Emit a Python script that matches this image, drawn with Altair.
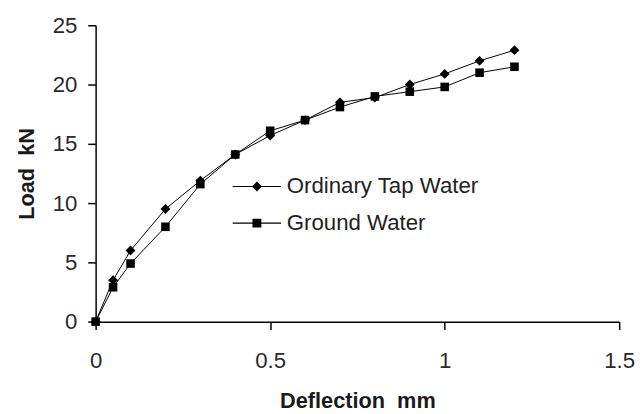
import altair as alt
import pandas as pd

# ---- data ----
deflection = [0, 0.05, 0.1, 0.2, 0.3, 0.4, 0.5, 0.6, 0.7, 0.8, 0.9, 1.0, 1.1, 1.2]
tap_load = [0, 3.5, 6.0, 9.5, 11.9, 14.1, 15.7, 17.0, 18.5, 18.9, 20.0, 20.9, 22.0, 22.9]
ground_load = [0, 2.9, 4.9, 8.0, 11.6, 14.1, 16.1, 17.0, 18.1, 19.0, 19.4, 19.8, 21.0, 21.5]
series_names = ["Ordinary Tap Water", "Ground Water"]
x_ticks = [0, 0.5, 1, 1.5]
y_ticks = [0, 5, 10, 15, 20, 25]

rows = []
for x, y in zip(deflection, tap_load):
    rows.append({"deflection": x, "load": y, "series": series_names[0]})
for x, y in zip(deflection, ground_load):
    rows.append({"deflection": x, "load": y, "series": series_names[1]})
df = pd.DataFrame(rows)

FONT = "Liberation Sans"

x_enc = alt.X("deflection:Q",
              scale=alt.Scale(domain=[0, 1.5], nice=False, zero=True),
              axis=alt.Axis(values=x_ticks, format="~g", title="Deflection\u00a0 mm",
                            labelFlush=False, labelPadding=20, titlePadding=19))
y_enc = alt.Y("load:Q",
              scale=alt.Scale(domain=[0, 25], nice=False),
              axis=alt.Axis(values=y_ticks, format="~g", title="Load\u00a0 kN",
                            labelFlush=False, labelPadding=11, titlePadding=14))

base = alt.Chart(df)

lines = base.mark_line(color="black", strokeWidth=1).encode(
    x=x_enc, y=y_enc, detail="series:N"
)

tap_pts = base.transform_filter(
    alt.datum.series == series_names[0]
).mark_point(shape="diamond", filled=True, size=100, color="black", opacity=1).encode(
    x=x_enc, y=y_enc
)

ground_pts = base.transform_filter(
    alt.datum.series == series_names[1]
).mark_point(shape="square", filled=True, size=75, color="black", opacity=1).encode(
    x=x_enc, y=y_enc
)

# legend symbols: thin filled bar (the line sample) plus the marker
diamond_path = "M-4.9,-0.11H4.9V0.11H-4.9Z M0,-1L1,0L0,1L-1,0Z"
square_path = "M-4.9,-0.11H4.9V0.11H-4.9Z M-0.9,-0.9H0.9V0.9H-0.9Z"

legend_layer = base.mark_point(filled=True, opacity=0, color="black").encode(
    x=x_enc, y=y_enc,
    shape=alt.Shape("series:N",
                    scale=alt.Scale(domain=series_names, range=[diamond_path, square_path]),
                    legend=alt.Legend(title=None, orient="none", legendX=152, legendY=152,
                                      symbolSize=100, symbolFillColor="black",
                                      symbolOpacity=1, labelFontSize=22.5, labelFont=FONT,
                                      labelColor="#222", labelOffset=19, rowPadding=14,
                                      padding=0, labelLimit=400))
)

chart = alt.layer(lines, tap_pts, ground_pts, legend_layer).properties(
    width=530, height=300,
    autosize=alt.AutoSizeParams(type="none"),
    padding={"left": 88.7, "top": 15, "right": 16, "bottom": 91},
    background="white",
).configure_view(stroke=None).configure_axis(
    domainColor="black", domainWidth=1.5, tickColor="black", tickWidth=1.5, tickSize=8,
    grid=False, labelFont=FONT, labelFontSize=22.5, labelColor="#2a2a2a",
    titleFont=FONT, titleFontSize=22, titleFontWeight="bold", titleColor="#1a1a1a",
)

chart.save("out.html", embed_options={"renderer": "svg", "actions": False})
